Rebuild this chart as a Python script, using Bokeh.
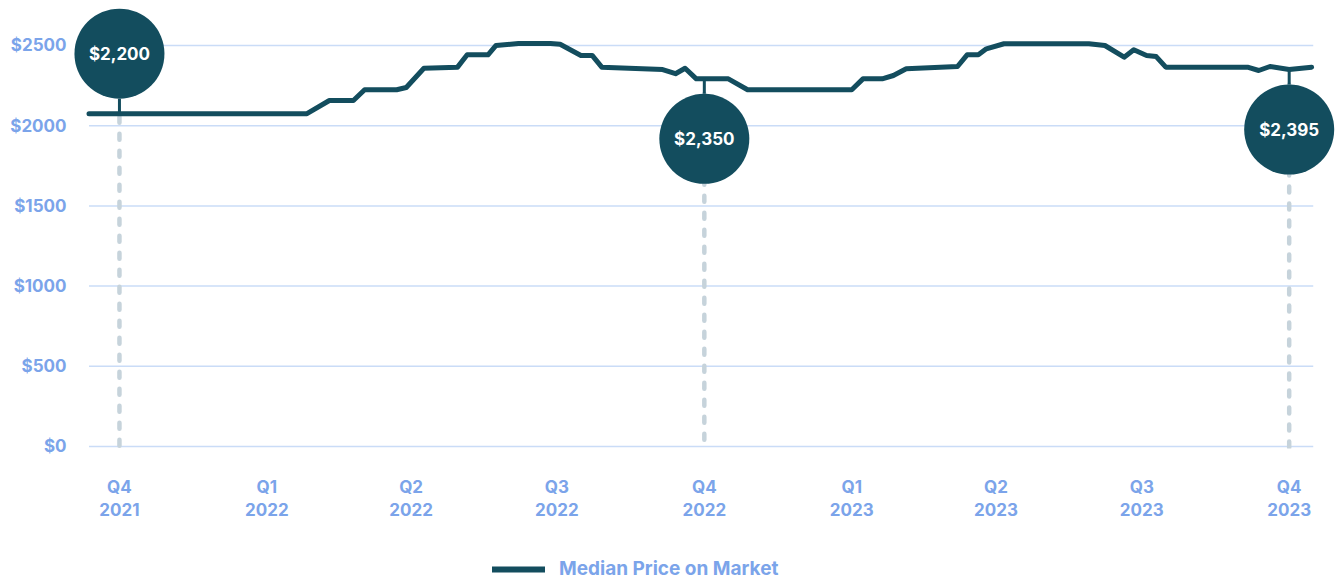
import numpy as np
from bokeh.plotting import figure
from bokeh.layouts import column
from bokeh.models import (Range1d, LinearAxis, FixedTicker, NumeralTickFormatter,
                          Legend, LegendItem, ColumnDataSource)
from bokeh.embed import file_html
from bokeh.resources import INLINE
from bokeh.core.properties import value

# ---- data (x = days since 2021-10-01) ----
days = [-19, 117, 131, 146, 153, 173, 179, 190, 211, 217,
        230, 235, 249, 269, 275, 288, 295, 301, 339, 347,
        353, 360, 380, 392, 457, 464, 476, 483, 491, 523,
        529, 536, 541, 552, 605, 615, 627, 633, 641, 647,
        653, 704, 711, 718, 730, 744]
prices = [2075, 2075, 2157, 2157, 2224, 2224, 2238, 2358, 2365, 2442,
          2442, 2500, 2512, 2512, 2508, 2438, 2438, 2365, 2350, 2324,
          2358, 2292, 2292, 2224, 2224, 2292, 2292, 2313, 2355, 2369,
          2442, 2442, 2479, 2511, 2511, 2500, 2427, 2473, 2438, 2431,
          2365, 2365, 2344, 2369, 2350, 2365]

quarter_days = [0, 92, 182, 273, 365, 457, 547, 638, 730]
quarter_labels = ["Q4", "Q1", "Q2", "Q3", "Q4", "Q1", "Q2", "Q3", "Q4"]
year_labels = ["2021", "2022", "2022", "2022", "2022", "2023", "2023", "2023", "2023"]
y_ticks = [0, 500, 1000, 1500, 2000, 2500]

ann_days = [0, 365, 730]
ann_labels = ["$2,200", "$2,350", "$2,395"]
ann_side = [1, -1, -1]   # bubble above (+1) or below (-1) the line

series_name = "Median Price on Market"

# ---- styles ----
LINE = "#134d5e"
BLUE = "#7ba4ea"
GRID = "#cadcf7"
DASH = "#c6d3db"
FONT = "Inter"

W, H = 1335, 532
LEG_H = 48
MB_LEFT, MB_RIGHT, MB_TOP, MB_BOTTOM = 68, 0, 0, 84
X0, X1 = -31.8, 758.9
Y0, Y1 = -12.5, 2780.5
frame_h = H - MB_TOP - MB_BOTTOM
dpp = (Y1 - Y0) / frame_h   # dollars per pixel

src = ColumnDataSource(dict(day=days, price=prices))

p = figure(width=W, height=H, x_range=Range1d(X0, X1), y_range=Range1d(Y0, Y1),
           output_backend="svg", toolbar_location=None,
           x_axis_location=None, y_axis_location=None,
           min_border_left=MB_LEFT, min_border_right=MB_RIGHT,
           min_border_top=MB_TOP, min_border_bottom=MB_BOTTOM,
           outline_line_color=None, background_fill_color="white",
           border_fill_color="white")
p.xgrid.visible = False
p.ygrid.visible = False

# y axis
yaxis = LinearAxis(ticker=FixedTicker(ticks=y_ticks),
                   formatter=NumeralTickFormatter(format="$0"))
yaxis.axis_line_color = None
yaxis.major_tick_line_color = None
yaxis.minor_tick_line_color = None
yaxis.major_tick_out = 0
yaxis.major_tick_in = 0
yaxis.major_label_standoff = 2
yaxis.major_label_text_font = FONT
yaxis.major_label_text_font_style = "bold"
yaxis.major_label_text_font_size = "17px"
yaxis.major_label_text_color = BLUE
p.add_layout(yaxis, "left")

# horizontal grid lines spanning the data extent
p.segment(x0=[days[0]] * len(y_ticks), y0=y_ticks,
          x1=[days[-1] + 1] * len(y_ticks), y1=y_ticks,
          line_color=GRID, line_width=1.5)

# x axes: quarter row and year row
def make_xaxis(labels, standoff):
    ax = LinearAxis(ticker=FixedTicker(ticks=quarter_days),
                    major_label_overrides={d: l for d, l in zip(quarter_days, labels)})
    ax.axis_line_color = None
    ax.major_tick_line_color = None
    ax.minor_tick_line_color = None
    ax.major_tick_out = 0
    ax.major_tick_in = 0
    ax.major_label_standoff = standoff
    ax.major_label_text_font = FONT
    ax.major_label_text_font_style = "bold"
    ax.major_label_text_font_size = "17px"
    ax.major_label_text_color = BLUE
    return ax

p.add_layout(make_xaxis(quarter_labels, 28), "below")
p.add_layout(make_xaxis(year_labels, 3), "below")

# annotation geometry
line_at = np.interp(ann_days, days, prices)
side = np.array(ann_side)
bubble_y = line_at + side * 60 * dpp
bubble_edge = bubble_y - side * 45 * dpp
dash_top = np.where(side > 0, line_at - 3 * dpp, bubble_edge)

p.segment(x0=ann_days, y0=dash_top, x1=ann_days, y1=[-2 * dpp] * 3,
          line_color=DASH, line_width=4.5, line_dash="6 11", line_cap="round")

p.line("day", "price", source=src, line_color=LINE, line_width=5,
       line_join="round", line_cap="round")

p.segment(x0=ann_days, y0=line_at, x1=ann_days, y1=bubble_edge,
          line_color=LINE, line_width=3)
p.scatter(ann_days, bubble_y, size=90, fill_color=LINE, line_color=None)
p.text(ann_days, bubble_y, text=ann_labels, text_align="center",
       text_baseline="middle", text_color="white", text_font=value(FONT),
       text_font_style="bold", text_font_size="17px")

# legend strip below the chart (same series, drawn out of view; legend shows its key)
pl = figure(width=W, height=LEG_H, x_range=Range1d(0, 1), y_range=Range1d(0, 1),
            output_backend="svg", toolbar_location=None,
            x_axis_location=None, y_axis_location=None,
            min_border_left=0, min_border_right=0, min_border_top=0,
            min_border_bottom=0, outline_line_color=None,
            background_fill_color="white", border_fill_color="white")
pl.xgrid.visible = False
pl.ygrid.visible = False
key_r = pl.line("day", "price", source=src, line_color=LINE, line_width=6,
                line_cap="round")
legend = Legend(items=[LegendItem(label=series_name, renderers=[key_r])],
                location=(424, 0), orientation="horizontal",
                padding=0, margin=0, spacing=0,
                border_line_color=None, background_fill_alpha=0,
                glyph_width=53, glyph_height=22, label_height=22,
                label_standoff=14, label_text_font=FONT,
                label_text_font_style="bold", label_text_font_size="19px",
                label_text_color=BLUE)
pl.add_layout(legend)

layout = column(p, pl, spacing=0)
open("out.html", "w").write(file_html(layout, INLINE))
